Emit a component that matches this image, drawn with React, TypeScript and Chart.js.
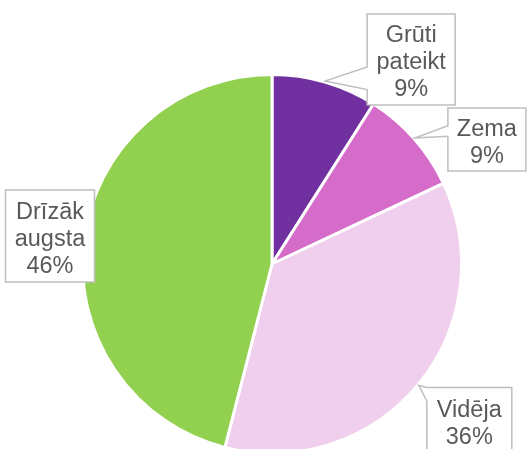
import React, { useEffect, useRef } from "react";
import { Chart, registerables } from "chart.js";

Chart.register(...registerables);

const categories = ["Grūti pateikt", "Zema", "Vidēja", "Drīzāk augsta"];
const labelLines = [["Grūti", "pateikt"], ["Zema"], ["Vidēja"], ["Drīzāk", "augsta"]];
const values = [9, 9, 36, 46];
const percentLabels = ["9%", "9%", "36%", "46%"];
const colors = ["#7030A0", "#D56CCA", "#F0CEEE", "#92D050"];

// callout layout: box offset from arc edge anchor, box size, pointer base on left edge (fractions of height)
const calloutLayout = [
  { dx: 42, dy: -67, w: 88, h: 91, base: [0.58, 0.83] },
  { dx: 33, dy: -30, w: 78, h: 63, base: [0.28, 0.45] },
  { dx: 8, dy: 2, w: 85, h: 68, base: [0.0, 0.2] },
  { dx: -77.5, dy: -50, w: 89, h: 92, base: null as null | number[] },
];

const calloutPlugin = {
  id: "callouts",
  afterDraw(chart: any) {
    const ctx = chart.ctx as CanvasRenderingContext2D;
    const meta = chart.getDatasetMeta(0);
    meta.data.forEach((arc: any, i: number) => {
      const lay = calloutLayout[i];
      const mid = (arc.startAngle + arc.endAngle) / 2;
      const R = arc.outerRadius + 1;
      const tx = arc.x + R * Math.cos(mid);
      const ty = arc.y + R * Math.sin(mid);
      const bx = tx + lay.dx;
      const by = ty + lay.dy;
      ctx.save();
      ctx.lineWidth = 1.5;
      ctx.strokeStyle = "#BFBFBF";
      ctx.fillStyle = "#FFFFFF";
      ctx.beginPath();
      if (lay.base) {
        const y1 = by + lay.h * lay.base[0];
        const y2 = by + lay.h * lay.base[1];
        ctx.moveTo(bx, by);
        ctx.lineTo(bx + lay.w, by);
        ctx.lineTo(bx + lay.w, by + lay.h);
        ctx.lineTo(bx, by + lay.h);
        ctx.lineTo(bx, y2);
        ctx.lineTo(tx, ty);
        ctx.lineTo(bx, y1);
        ctx.closePath();
      } else {
        ctx.rect(bx, by, lay.w, lay.h);
      }
      ctx.fill();
      ctx.stroke();
      const lines = [...labelLines[i], percentLabels[i]];
      ctx.fillStyle = "#595959";
      ctx.font = "23.5px 'Liberation Sans', Arial, sans-serif";
      ctx.textAlign = "center";
      ctx.textBaseline = "middle";
      const lh = 27;
      const cx = bx + lay.w / 2;
      const cy = by + lay.h / 2;
      lines.forEach((t, k) => {
        ctx.fillText(t, cx, cy + (k - (lines.length - 1) / 2) * lh + 3);
      });
      ctx.restore();
    });
  },
};

export default function App() {
  const ref = useRef<HTMLCanvasElement>(null);
  useEffect(() => {
    if (!ref.current) return;
    const chart = new Chart(ref.current, {
      type: "pie",
      data: {
        labels: categories,
        datasets: [
          {
            data: values,
            backgroundColor: colors,
            borderColor: "#FFFFFF",
            borderWidth: 3,
          },
        ],
      },
      options: {
        responsive: false,
        animation: false,
        layout: { padding: { left: 81, right: 64, top: 73, bottom: 5 } },
        plugins: { legend: { display: false }, tooltip: { enabled: false } },
      },
      plugins: [calloutPlugin],
    });
    return () => chart.destroy();
  }, []);
  return (
    <div style={{ position: "absolute", left: 0, top: 0, width: 527, height: 449, overflow: "hidden", background: "#fff" }}>
      <canvas ref={ref} width={527} height={460} style={{ display: "block", width: 527, height: 460 }} />
    </div>
  );
}
